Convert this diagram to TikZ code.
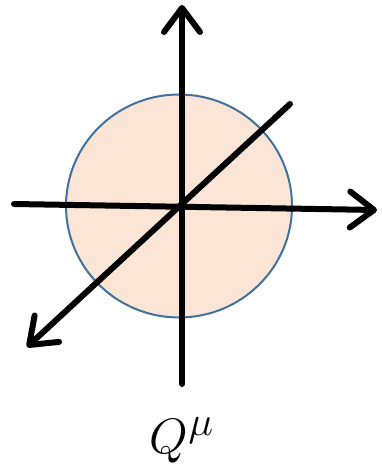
\documentclass[tikz,border=0pt]{standalone}
\usetikzlibrary{arrows.meta,shapes.geometric}
\definecolor{discfill}{HTML}{FBE5D6}
\definecolor{discline}{HTML}{41719C}
\begin{document}
\begin{tikzpicture}[x=0.75pt,y=-0.75pt,
  axis/.style={line width=4.5pt,line cap=round,
    -{Straight Barb[length=18pt,width=27pt,line width=4.5pt,line cap=round,line join=round]}},
  disc/.style={draw=discline,fill=discfill,line width=1.5pt}]
\useasboundingbox (0,0) rectangle (381,473);
\node[disc,ellipse,minimum width=226*0.75pt,minimum height=223*0.75pt,inner sep=0pt] (d) at (179,206) {};
\coordinate (vb) at (182,384);
\coordinate (vt) at (182,5);
\coordinate (hl) at (14,204);
\coordinate (hr) at (377,210);
\coordinate (dr) at (290,104);
\coordinate (dl) at (27,347);
\draw[axis] (hl) -- (hr);
\draw[axis] (vb) -- (vt);
\draw[axis] (dr) -- (dl);
\node[scale=1.5,font=\Huge] (q) at (182,440) {$Q^{\mu}$};
\end{tikzpicture}
\end{document}
